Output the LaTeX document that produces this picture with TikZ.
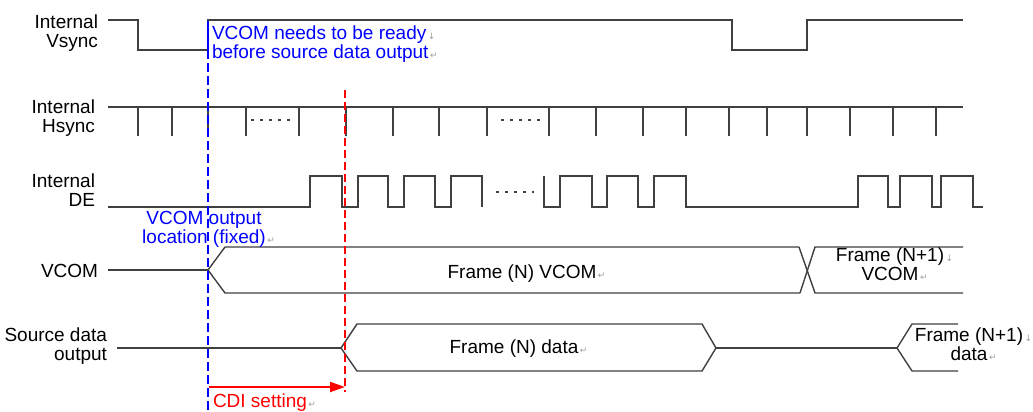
\documentclass[tikz,border=0pt]{standalone}
\usepackage{fontspec}
\setmainfont{Liberation Sans}
\newfontfamily\markfont{DejaVu Sans}
\usetikzlibrary{arrows.meta}
\definecolor{sigc}{HTML}{404040}
\definecolor{pblue}{RGB}{0,0,255}
\definecolor{pred}{RGB}{255,0,0}
\definecolor{markc}{HTML}{A0A0A0}
\newcommand\pmk{\rlap{\textcolor{markc}{\markfont\fontsize{9}{9}\selectfont\,↵}}}
\newcommand\lbk{\rlap{\textcolor{markc}{\markfont\fontsize{9}{9}\selectfont\,↓}}}
\begin{document}
\begin{tikzpicture}[x=1pt,y=-1pt,
  sig/.style={draw=sigc, line width=1.4pt, line join=miter},
  dotline/.style={draw=sigc, line width=1.3pt, dash pattern=on 3pt off 6pt},
  lbl/.style={inner sep=0pt, outer sep=0pt, font=\fontsize{19}{19}\selectfont},
  bluetxt/.style={lbl, text=pblue},
  redtxt/.style={lbl, text=pred},
  bluedash/.style={draw=pblue, line width=1.4pt, dash pattern=on 9pt off 4pt},
  reddash/.style={draw=pred, line width=1.4pt, dash pattern=on 8pt off 4pt},
  redarrow/.style={draw=pred, line width=2pt, -{Triangle[length=15pt,width=10pt]}}
]
\useasboundingbox (0,0) rectangle (1033,412);
\fill[white] (0,0) rectangle (1033,412);

% ---- labels ----
\node[lbl, anchor=north east, align=right] (lvs) at (98,15) {Internal\\Vsync};
\node[lbl, anchor=north east, align=right] (lhs) at (95,100) {Internal\\Hsync};
\node[lbl, anchor=north east, align=right] (lde) at (95,174) {Internal\\DE};
\node[lbl, anchor=base east] (lvc) at (98,277) {VCOM};
\node[lbl, anchor=north east, align=right] (lsd) at (107,328) {Source data\\output};

% ---- Vsync ----
\draw[sig] (108,20) -- (138,20) -- (138,50) -- (208,50) -- (208,20) -- (732,20) -- (732,50) -- (807,50) -- (807,20) -- (963,20);

% ---- Hsync ----
\draw[sig] (108,107) -- (963,107);
\foreach \t in {138,172,208,246,299,346,393,439,487,549,596,643,686,729,767,807,850,893,936}
  \draw[sig] (\t,107) -- (\t,136);
\draw[dotline] (251,120) -- (293,120);
\draw[dotline] (501,120) -- (542,120);

% ---- DE ----
\draw[sig] (108,207) -- (310,207) -- (310,176) -- (342,176) -- (342,207) -- (358,207) -- (358,176) -- (388,176) -- (388,207) -- (404,207) -- (404,176) -- (435,176) -- (435,207) -- (451,207) -- (451,176) -- (482,176) -- (482,207);
\draw[dotline] (496,192) -- (534,192);
\draw[sig] (544,176) -- (544,207) -- (560,207) -- (560,176) -- (592,176) -- (592,207) -- (607,207) -- (607,176) -- (638,176) -- (638,207) -- (654,207) -- (654,176) -- (686,176) -- (686,207) -- (858,207) -- (858,176) -- (888,176) -- (888,207) -- (900,207) -- (900,176) -- (932,176) -- (932,207) -- (941,207) -- (941,176) -- (973,176) -- (973,207) -- (983,207);

% ---- VCOM ----
\draw[sig] (108,270) -- (208,270);
\draw[sig] (799,247) -- (225,247) -- (208,270) -- (225,293) -- (800,293);
\draw[sig] (799,247) -- (815,293) -- (963,293);
\draw[sig] (800,293) -- (815,247) -- (963,247);
\node[lbl, anchor=base] (fnv) at (522,278) {Frame (N) VCOM\pmk};
\node[lbl, anchor=north, align=center] (fn1v) at (890,248) {Frame (N+1)\lbk\\VCOM\pmk};

% ---- Source data ----
\draw[sig] (117,348) -- (341,348);
\draw[sig] (341,348) -- (357,324) -- (702,324) -- (716,348) -- (702,371) -- (357,371) -- cycle;
\draw[sig] (716,348) -- (897,348);
\draw[sig] (958,324) -- (912,324) -- (897,348) -- (912,371) -- (958,371);
\node[lbl, anchor=base] (fnd) at (514,353) {Frame (N) data\pmk};
\node[lbl, anchor=north, align=center] (fn1d) at (969,328) {Frame (N+1)\lbk\\data\pmk};

% ---- markers ----
\draw[draw=pblue, line width=1.4pt] (208,21) -- (208,50);
\draw[bluedash] (208,50) -- (208,412);
\draw[reddash] (345,90) -- (345,392);
\coordinate (cdiA) at (209,387);
\coordinate (cdiB) at (345,387);
\draw[redarrow] (cdiA) -- (cdiB);

\node[bluetxt, anchor=north west, align=left] (vready) at (212,26) {VCOM needs to be ready\lbk\\before source data output\pmk};
\node[bluetxt, anchor=north, align=center] (vloc) at (204,211) {VCOM output\\location (fixed)\pmk};
\node[redtxt, anchor=north west] (cdi) at (213,394) {CDI setting\pmk};
\end{tikzpicture}
\end{document}
